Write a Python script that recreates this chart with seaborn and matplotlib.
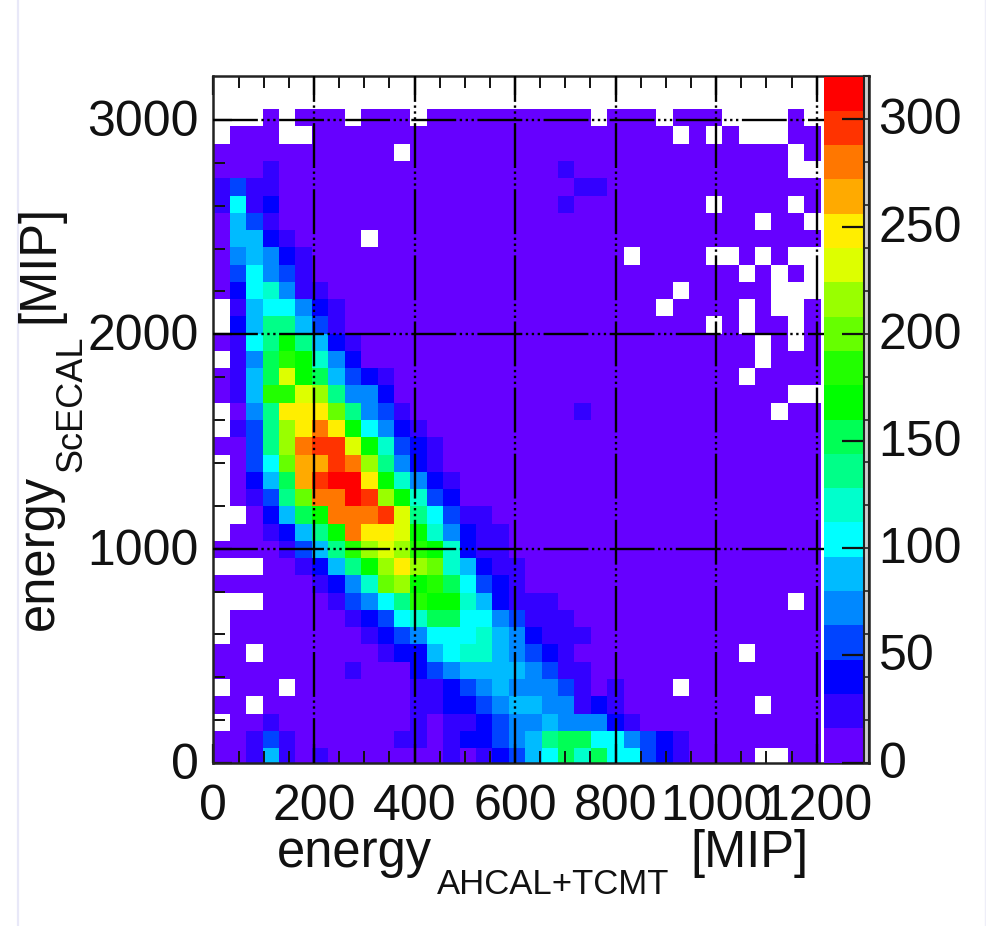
import matplotlib
matplotlib.use('Agg')
import matplotlib.pyplot as plt
from matplotlib.colors import ListedColormap
from matplotlib.transforms import ScaledTranslation
import seaborn as sns
import numpy as np

# --- data ---
# one string per row of the 2D histogram, top row first
# each char is the palette level of the bin (0-9, a-j), '.' is an empty bin
bin_rows = [
    "...0.000.0 00.0000000 000.000.00 0....0.",
    ".000..0000 0000000000 00000000.0 .0...00",
    "0000000000 0.00000000 0000000000 00000.0",
    "0001000000 0000000000 0100000000 00000..",
    "1311000000 0000000000 0011000000 0000000",
    "1612000000 0000000000 0100000000 .0000.0",
    "0531000000 0000000000 0000000000 000.00.",
    "055210000. 0000000000 0000000000 0000000",
    "0454210000 0000000000 00000.0000 ..0.0..",
    "0364310000 0000000000 0000000000 00.0.0.",
    "0267411000 0000000000 00000000.0 0000...",
    ".156642100 0000000000 0000000.00 00.0..0",
    ".258853100 0000000000 0000000000 .0.00.0",
    "0168a85210 0000000000 0000000000 000.0.0",
    ".149ba7420 0000000000 0000000000 000.000",
    "0159ea9532 1000000000 0000000000 00.0000",
    "015bbed844 2000000000 0000000000 00000..",
    ".048fffc84 3100000000 0010000000 0000.00",
    ".138dfhfa6 4210000000 0000000000 0000000",
    "0038dhiiea 7321000000 0000000000 0000000",
    ".036cggihd 8421000000 0000000000 0000000",
    ".0259gijjf a742100000 0000000000 0000000",
    ".0138chhji da73200000 0000000000 0000000",
    "..0259ahhh ie86311000 0000000000 0000000",
    ".001258ahf fea7421100 0000000000 0000000",
    "00001358bd edba721100 0000000000 0000000",
    "...001258a dfdc752110 0000000000 0000000",
    "0000001247 cdab963210 0000000000 0000000",
    "...0000134 68baa75211 1000000000 00000.0",
    ".000000012 3679966431 1100000000 0000000",
    ".000000001 2346667542 1110000000 0000000",
    "00.0000000 1225677543 2100000000 00.0000",
    "0000000010 0023455554 3110000000 0000000",
    ".000.00000 0011234544 43101000.0 0000000",
    "00.0000000 0011223455 4412100000 000.000",
    ".001000000 0010112344 5444210000 0000000",
    "0013100000 0110122345 8996643210 0000000",
    "0015101000 0000101235 6979663210 000..00",
]
palette_colors = ['#6600ff', '#3300ff', '#0000ff', '#0044ff', '#0088ff', '#00bbff', '#00ffff',
                  '#00ffcc', '#00ff88', '#00ff55', '#00ff00', '#22ff00', '#66ff00', '#99ff00',
                  '#ddff00', '#ffee00', '#ffaa00', '#ff7700', '#ff3300', '#ff0000']
x_ticks = [0, 200, 400, 600, 800, 1000, 1200]
y_ticks = [0, 1000, 2000, 3000]
z_ticks = [0, 50, 100, 150, 200, 250, 300]

BIN_X = 32.64   # width of one bin in MIP
BIN_Y = 80.55
Y_TOP_EDGE = 3050
X_MAX = 1304
Y_MAX = 3205
Z_STEP = 16
W, H = 987, 926
FONT = 'Liberation Sans'
DARK = '#111111'
TXT = '#111111'

plt.rcParams['font.family'] = FONT

def decode(ch):
    if ch == '.':
        return np.nan
    return (int(ch, 20) + 0.5) * Z_STEP

counts = np.array([[decode(c) for c in row.replace(' ', '')] for row in bin_rows])
cmap = ListedColormap(palette_colors)

def px_axes(fig, x0, y0, x1, y1):
    # y measured from the top of the picture
    return fig.add_axes([x0 / W, 1 - y1 / H, (x1 - x0) / W, (y1 - y0) / H])

def xc(v):
    return np.asarray(v) / BIN_X

def yc(v):
    return (Y_TOP_EDGE - np.asarray(v)) / BIN_Y

def nudge(labels, dy_px):
    for lab in labels:
        lab.set_transform(lab.get_transform() + ScaledTranslation(0, dy_px / 100, fig.dpi_scale_trans))

fig = plt.figure(figsize=(W / 100, H / 100), dpi=100, facecolor='white')

# --- main histogram ---
ax = px_axes(fig, 213.4, 76, 869, 763)
sns.heatmap(counts, ax=ax, cmap=cmap, vmin=0, vmax=20 * Z_STEP, cbar=False, square=False)
ax.set_xlim(xc(0), xc(X_MAX))
ax.set_ylim(yc(0), yc(Y_MAX))
ax.set_xticks(xc(x_ticks))
ax.set_xticklabels([str(v) for v in x_ticks], rotation=0)
ax.set_yticks(yc(y_ticks))
ax.set_yticklabels([str(v) for v in y_ticks], rotation=0)
ax.set_xticks(xc(np.arange(0, 1250, 50)), minor=True)
ax.set_yticks(yc(np.arange(0, 3200, 200)), minor=True)
ax.tick_params(axis='both', which='major', direction='in', length=14, width=1.6, color=DARK,
               labelsize=36, labelcolor=TXT, top=True, right=False)
ax.tick_params(axis='x', which='major', pad=15)
ax.tick_params(axis='y', which='major', pad=10.5)
ax.tick_params(axis='both', which='minor', direction='in', length=8.5, width=1.4, color=DARK, top=True)
for s in ax.spines.values():
    s.set_visible(True)
    s.set_linewidth(1.8)
    s.set_color('#222222')
nudge(ax.get_yticklabels(), -3)

grid_style = (0, (19, 1.5, 1, 1.5, 1, 1.5, 1, 1.5))
for v in x_ticks[1:]:
    ax.plot([xc(v)] * 2, [yc(0), yc(Y_MAX)], color='black', lw=1.7, ls=grid_style, zorder=5)
for v in y_ticks[1:]:
    ax.plot([xc(0), xc(1225)], [yc(v)] * 2, color='black', lw=1.7, ls=grid_style, zorder=5)

# --- palette ---
cax = px_axes(fig, 824, 76.5, 864, 762.5)
levels = (np.arange(20)[::-1, None] + 0.5) * Z_STEP
sns.heatmap(levels, ax=cax, cmap=cmap, vmin=0, vmax=20 * Z_STEP, cbar=False)
cax.set_xticks([])
cax.set_yticks((320 - np.array(z_ticks)) / Z_STEP)
cax.set_yticklabels([str(v) for v in z_ticks], rotation=0)
cax.yaxis.tick_right()
cax.tick_params(axis='y', direction='in', length=16, width=1.6, color=DARK, labelsize=36,
                labelcolor=TXT, pad=10.5)
nudge(cax.get_yticklabels(), 3)

# strip right of the palette
strip = px_axes(fig, 864, 76, 869, 763)
strip.set_facecolor('#cfcfcf')
strip.set_xticks([])
strip.set_yticks([])
strip.set_ylim(0, 320)
strip.hlines(np.arange(0, 320, 20), 0, 1, color='#222222', lw=1.2, transform=strip.get_yaxis_transform())
for s in strip.spines.values():
    s.set_visible(True)
    s.set_linewidth(1.5)
    s.set_color('#222222')

# --- axis titles ---
fig.text(277 / W, 1 - 867 / H, 'energy', fontsize=36.5, color=TXT, va='baseline')
fig.text(437 / W, 1 - 894 / H, 'AHCAL+TCMT', fontsize=25, color=TXT, va='baseline')
fig.text(690 / W, 1 - 867 / H, '[MIP]', fontsize=36.5, color=TXT, va='baseline')
fig.text(52.7 / W, 1 - 630 / H, 'energy', fontsize=36.5, color=TXT, rotation=90,
         rotation_mode='anchor', va='baseline', ha='left')
fig.text(81.7 / W, 1 - 472 / H, 'ScECAL', fontsize=26, color=TXT, rotation=90,
         rotation_mode='anchor', va='baseline', ha='left')
fig.text(53 / W, 1 - 323 / H, '[MIP]', fontsize=36.5, color=TXT, rotation=90,
         rotation_mode='anchor', va='baseline', ha='left')

# thin page edges
fig.add_artist(plt.Line2D([17.5 / W, 17.5 / W], [0, 1], color='#e8e8f8', lw=1.6))
fig.add_artist(plt.Line2D([985.5 / W, 985.5 / W], [0, 1], color='#eeeef8', lw=1))

plt.savefig('out.png', dpi=100)
plt.close()
